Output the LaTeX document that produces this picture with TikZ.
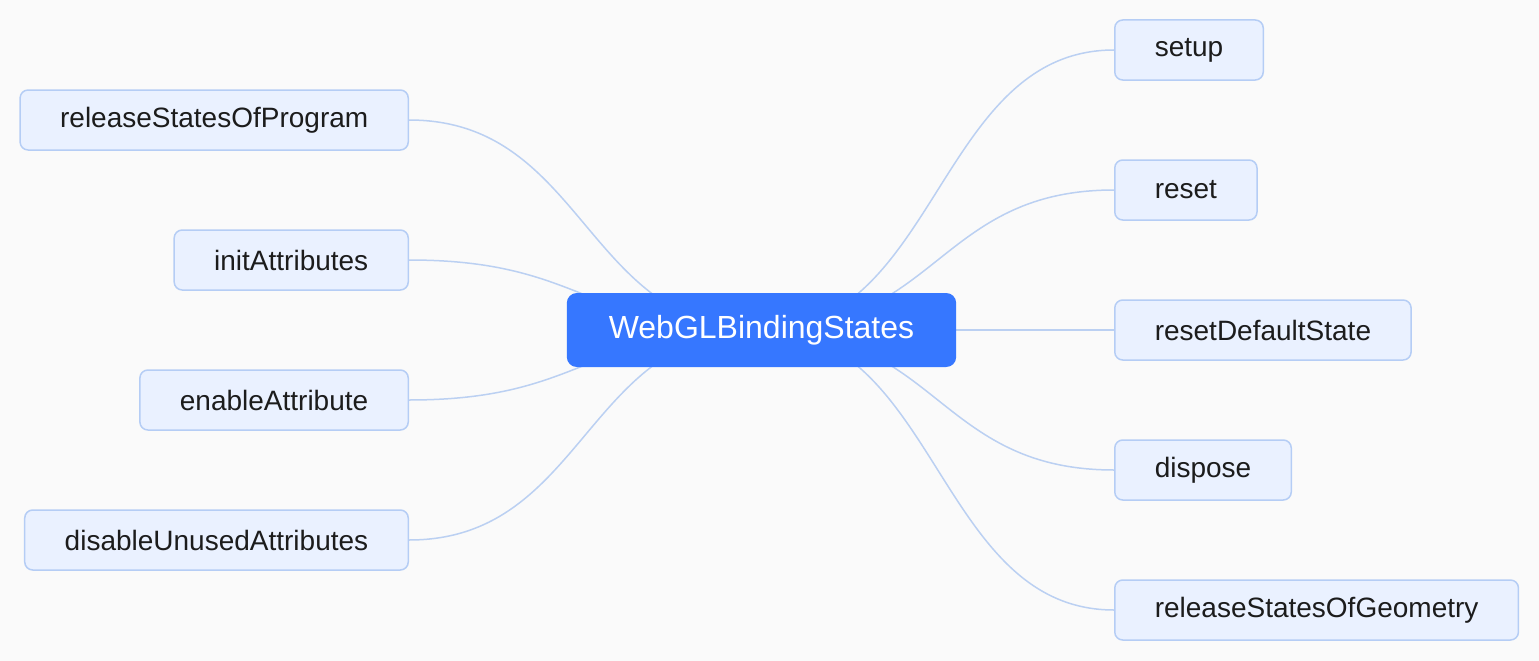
\documentclass[tikz,border=0pt]{standalone}
\usepackage{fontspec}
\setmainfont{Liberation Sans}
\usetikzlibrary{backgrounds}
\definecolor{rootblue}{HTML}{3677FF}
\definecolor{leaffill}{HTML}{EAF1FF}
\definecolor{leafline}{HTML}{B5CDF5}
\definecolor{edgeblue}{HTML}{BBD0F2}
\definecolor{pagebg}{HTML}{FAFAFA}
\definecolor{inkdark}{HTML}{1C1C1C}
\begin{document}
\begin{tikzpicture}[x=1pt, y=-1pt,
  root/.style={draw=none, fill=rootblue, rounded corners=10pt, text=white, minimum height=74pt, inner xsep=42pt, font=\fontsize{32}{38}\selectfont},
  leaf/.style={draw=leafline, line width=1.5pt, fill=leaffill, rounded corners=8pt, text=inkdark, minimum height=60pt, inner xsep=40pt, font=\fontsize{28}{34}\selectfont},
  edge/.style={draw=edgeblue, line width=1.5pt}]
\useasboundingbox (0,0) rectangle (1539,661);
\node[root] (w) at (761.5,330) {WebGLBindingStates};
% left side
\node[leaf, anchor=east] (p) at (409,120) {releaseStatesOfProgram};
\node[leaf, anchor=east] (ia) at (409,260) {initAttributes};
\node[leaf, anchor=east] (ea) at (409,400) {enableAttribute};
\node[leaf, anchor=east] (da) at (409,540) {disableUnusedAttributes};
% right side
\node[leaf, anchor=west] (su) at (1114,50) {setup};
\node[leaf, anchor=west] (rs) at (1114,190) {reset};
\node[leaf, anchor=west] (rd) at (1114,330) {resetDefaultState};
\node[leaf, anchor=west] (dp) at (1114,470) {dispose};
\node[leaf, anchor=west] (g) at (1114,610) {releaseStatesOfGeometry};
\coordinate (ml) at (585.25,0);
\coordinate (mr) at (937.75,0);
\begin{pgfonlayer}{background}
\fill[pagebg] (0,0) rectangle (1539,661);
\foreach \n in {p,ia,ea,da}
  \draw[edge] (w.center) .. controls (w.center -| ml) and (\n.east -| ml) .. (\n.east);
\foreach \n in {su,rs,rd,dp,g}
  \draw[edge] (w.center) .. controls (w.center -| mr) and (\n.west -| mr) .. (\n.west);
\end{pgfonlayer}
\end{tikzpicture}
\end{document}
